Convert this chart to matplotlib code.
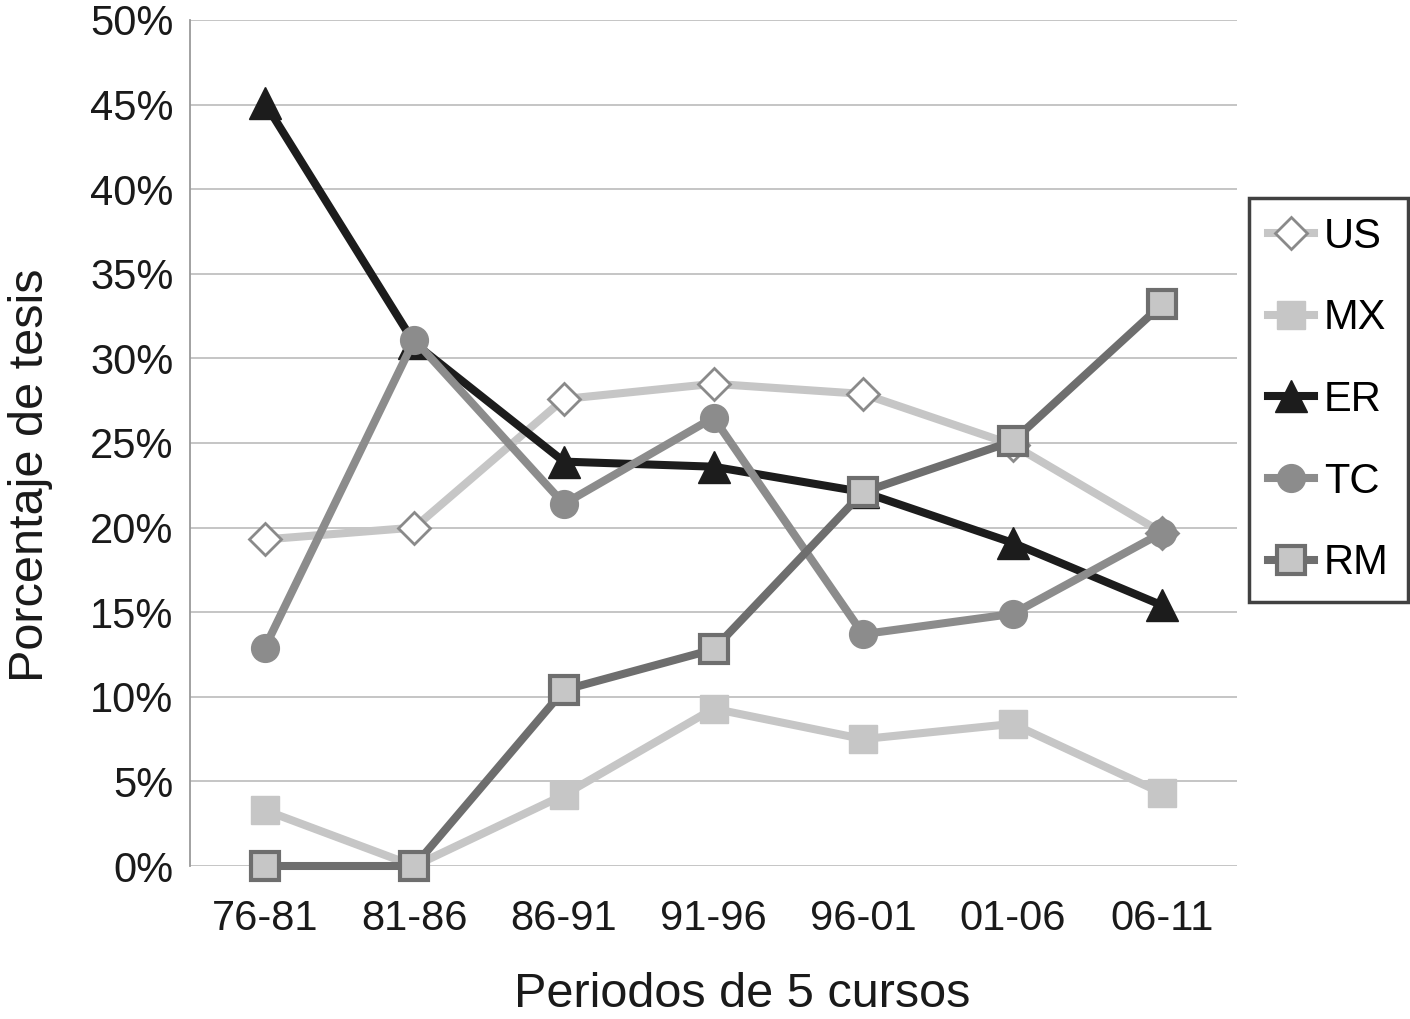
import matplotlib
matplotlib.use("Agg")
import matplotlib.pyplot as plt
from matplotlib.ticker import FuncFormatter

plt.rcParams["font.family"] = ["Liberation Sans", "DejaVu Sans"]

periodos = ["76-81", "81-86", "86-91", "91-96", "96-01", "01-06", "06-11"]
us = [19.3, 20.0, 27.6, 28.5, 27.9, 24.9, 19.7]
mx = [3.3, 0.0, 4.2, 9.3, 7.5, 8.4, 4.3]
er = [45.1, 30.9, 23.9, 23.6, 22.1, 19.1, 15.4]
tc = [12.9, 31.1, 21.4, 26.5, 13.7, 14.9, 19.7]
rm = [0.0, 0.0, 10.4, 12.8, 22.1, 25.1, 33.2]

fig = plt.figure(figsize=(14.10, 10.19), dpi=100)
ax = fig.add_axes([190 / 1410, 1 - 866 / 1019, (1237 - 190) / 1410, (866 - 20) / 1019])

xPos = list(range(len(periodos)))
lw = 5.8
ax.plot(xPos, us, color="#c6c6c6", lw=lw, marker="D", ms=16, mfc="white",
        mec="#8a8a8a", mew=2, label="US", zorder=3, clip_on=False)
ax.plot(xPos, mx, color="#c6c6c6", lw=lw, marker="s", ms=20, mfc="#c6c6c6",
        mec="#c6c6c6", label="MX", zorder=3, clip_on=False)
ax.plot(xPos, er, color="#1c1c1c", lw=lw, marker="^", ms=23, mfc="#1c1c1c",
        mec="#1c1c1c", label="ER", zorder=4, clip_on=False)
ax.plot(xPos, tc, color="#8c8c8c", lw=lw, marker="o", ms=20, mfc="#8c8c8c",
        mec="#8c8c8c", label="TC", zorder=5, clip_on=False)
ax.plot(xPos, rm, color="#6e6e6e", lw=lw, marker="s", ms=20, mfc="#c6c6c6",
        mec="#6e6e6e", mew=3, label="RM", zorder=6, clip_on=False)

ax.set_xlim(-0.5, 6.5)
ax.set_ylim(0, 50)
ax.set_yticks(range(0, 51, 5))
ax.yaxis.set_major_formatter(FuncFormatter(lambda v, p: f"{int(v)}%"))
ax.set_xticks(xPos)
ax.set_xticklabels(periodos)
ax.tick_params(axis="both", labelsize=30, length=0, colors="#1a1a1a")
ax.tick_params(axis="x", pad=24)
ax.tick_params(axis="y", pad=12)
ax.grid(axis="y", color="#c0c0c0", lw=1.3)
ax.set_axisbelow(True)
for side in ["top", "right", "bottom"]:
    ax.spines[side].set_visible(False)
ax.spines["left"].set_color("#9a9a9a")
ax.spines["left"].set_linewidth(1.3)

ax.set_xlabel("Periodos de 5 cursos", fontsize=35, color="#1a1a1a")
ax.set_ylabel("Porcentaje de tesis", fontsize=35, color="#1a1a1a")
ax.xaxis.set_label_coords(0.527, -0.125)
ax.yaxis.set_label_coords(-0.1305, 0.462)

leg = ax.legend(loc="upper left", bbox_to_anchor=(1249 / 1410, 1 - 198 / 1019),
                bbox_transform=fig.transFigure, fontsize=30, frameon=True,
                fancybox=False, edgecolor="#111111", handlelength=1.1,
                labelspacing=1.0, borderpad=0.45, handletextpad=0.25,
                borderaxespad=0)
leg.get_frame().set_linewidth(2.5)

fig.savefig("out.png", dpi=100)
